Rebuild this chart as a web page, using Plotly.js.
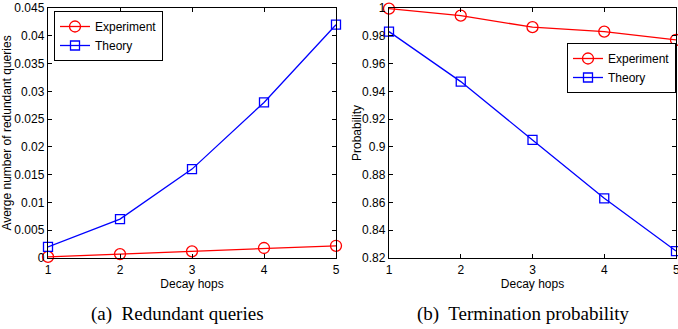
<!DOCTYPE html>
<html><head><meta charset="utf-8">
<script src="https://cdn.plot.ly/plotly-3.0.1.min.js"></script>
<style>html,body{margin:0;padding:0;background:#fff;width:678px;height:329px;overflow:hidden}#c{width:678px;height:329px;overflow:hidden}</style>
</head><body><div id="c"></div>
<script>
var hops = [1, 2, 3, 4, 5];
var redundantExperiment = [0.0002, 0.0007, 0.0012, 0.0018, 0.0022];
var redundantTheory = [0.002, 0.007, 0.016, 0.028, 0.042];
var termExperiment = [0.9995, 0.9945, 0.9862, 0.9830, 0.9770];
var termTheory = [0.983, 0.947, 0.905, 0.863, 0.825];
var xTicks = [1, 2, 3, 4, 5];
var yTicksA = [0, 0.005, 0.01, 0.015, 0.02, 0.025, 0.03, 0.035, 0.04, 0.045];
var yTicksALabels = ['0', '0.005', '0.01', '0.015', '0.02', '0.025', '0.03', '0.035', '0.04', '0.045'];
var yTicksB = [0.82, 0.84, 0.86, 0.88, 0.9, 0.92, 0.94, 0.96, 0.98, 1];
var yTicksBLabels = ['0.82', '0.84', '0.86', '0.88', '0.9', '0.92', '0.94', '0.96', '0.98', '1'];

var F = 'Liberation Sans, Arial, sans-serif';
var red = '#ff0000', blue = '#0000ff';
function tr(x, y, name, col, sym, xa, ya, lg) {
  return {x: x, y: y, name: name, type: 'scatter', mode: 'lines+markers',
    xaxis: xa, yaxis: ya, showlegend: true, legend: lg,
    line: {color: col, width: 1.3},
    marker: {symbol: sym, size: sym === 'circle-open' ? 11 : 9, color: col, line: {width: 1.3, color: col}},
    cliponaxis: false};
}
var data = [
  tr(hops, redundantExperiment, 'Experiment', red, 'circle-open', 'x', 'y', 'legend'),
  tr(hops, redundantTheory, 'Theory', blue, 'square-open', 'x', 'y', 'legend'),
  tr(hops, termExperiment, 'Experiment', red, 'circle-open', 'x2', 'y2', 'legend2'),
  tr(hops, termTheory, 'Theory', blue, 'square-open', 'x2', 'y2', 'legend2')
];
var W = 678, H = 329;
var yd = [1 - 258 / H, 1 - 8 / H];
function ax(extra) {
  var a = {showgrid: false, zeroline: false, showline: true, linecolor: '#000', linewidth: 1.2,
    mirror: 'ticks', ticks: 'inside', ticklen: 4, tickcolor: '#000', tickwidth: 1,
    automargin: false,
    tickfont: {family: F, size: 12, color: '#000'}};
  for (var k in extra) a[k] = extra[k];
  return a;
}
var legendBase = {bgcolor: '#fff', bordercolor: '#000', borderwidth: 1,
  font: {family: F, size: 12}, tracegroupgap: 0, itemwidth: 30, yanchor: 'top'};
function lg(extra) { var o = {}; for (var k in legendBase) o[k] = legendBase[k]; for (var k2 in extra) o[k2] = extra[k2]; return o; }
var serif = 'Liberation Serif, Times New Roman, serif';
var layout = {
  width: W, height: H, margin: {l: 0, r: 0, t: 0, b: 0, autoexpand: false},
  paper_bgcolor: '#fff', plot_bgcolor: '#fff',
  font: {family: F, size: 12, color: '#000'},
  xaxis: ax({domain: [48 / W, 336 / W], range: [1, 5], tickvals: xTicks, anchor: 'y',
    title: {text: 'Decay hops', font: {family: F, size: 12}, standoff: 2}}),
  yaxis: ax({domain: yd, range: [0, 0.045], tickvals: yTicksA, ticktext: yTicksALabels, anchor: 'x',
    title: {text: 'Averge number of redundant queries', font: {family: F, size: 12}, standoff: 3}}),
  xaxis2: ax({domain: [389 / W, 676 / W], range: [1, 5], tickvals: xTicks, anchor: 'y2',
    title: {text: 'Decay hops', font: {family: F, size: 12}, standoff: 2}}),
  yaxis2: ax({domain: yd, range: [0.82, 1], tickvals: yTicksB, ticktext: yTicksBLabels, anchor: 'x2'}),
  legend: lg({x: 54 / W, y: 1 - 11 / H, xanchor: 'left'}),
  legend2: lg({x: 676 / W, y: 1 - 43 / H, xanchor: 'right'}),
  annotations: [
    {text: String(xTicks[4]), x: xTicks[4], xref: 'x2', y: 1 - 261 / H, yref: 'paper',
      xanchor: 'center', yanchor: 'top', showarrow: false,
      font: {family: F, size: 12, color: '#000'}},
    {text: 'Probability', x: 357 / W, y: 1 - 133 / H, xref: 'paper', yref: 'paper',
      xanchor: 'center', yanchor: 'middle', textangle: -90,
      showarrow: false, font: {family: F, size: 12, color: '#000'}},
    {text: '(a)  Redundant queries', x: 177 / W, y: 1 - 314 / H, xref: 'paper', yref: 'paper',
      xanchor: 'center', yanchor: 'middle',
      showarrow: false, font: {family: serif, size: 19, color: '#000'}},
    {text: '(b)  Termination probability', x: 523 / W, y: 1 - 314 / H, xref: 'paper', yref: 'paper',
      xanchor: 'center', yanchor: 'middle',
      showarrow: false, font: {family: serif, size: 19, color: '#000'}}
  ]
};
Plotly.newPlot('c', data, layout, {displayModeBar: false, staticPlot: true});
</script></body></html>
